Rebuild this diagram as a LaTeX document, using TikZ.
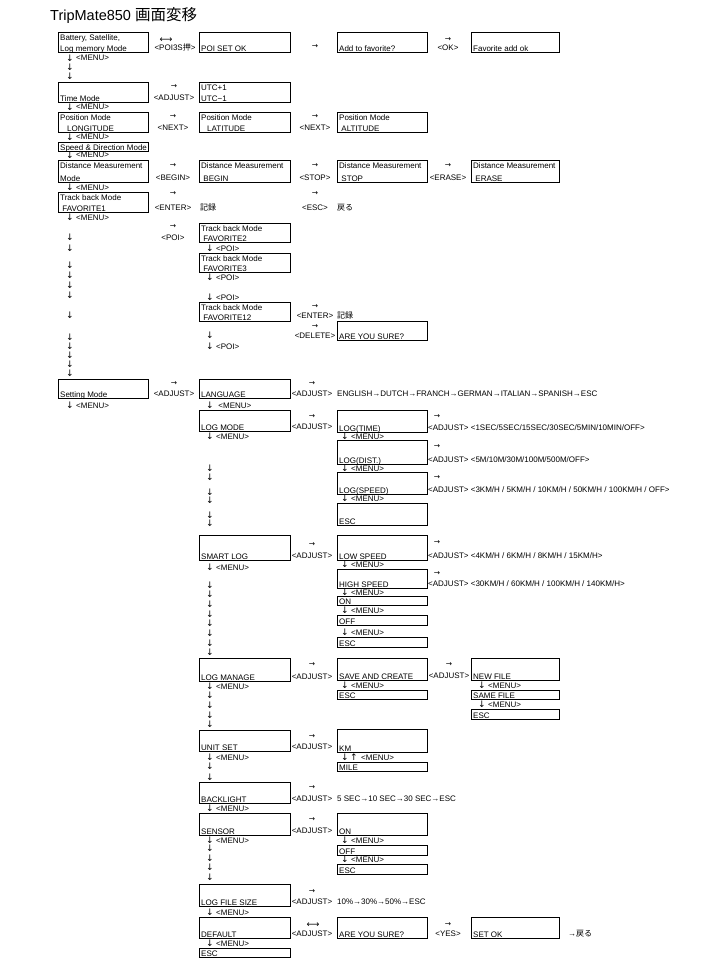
\documentclass[tikz,border=0pt]{standalone}
\usepackage{fontspec}
\setmainfont{Liberation Sans}
\newfontfamily\cjk{Noto Sans CJK JP}
\newfontfamily\djv{DejaVu Sans}
\newcounter{nn}
\tikzset{
 box/.style={draw, line width=0.9pt, inner sep=0pt, anchor=north west},
 t/.style={anchor=base west, inner sep=0pt, font=\fontsize{8}{9}\selectfont},
 c/.style={anchor=base, inner sep=0pt, font=\fontsize{8}{9}\selectfont},
 ar/.style={anchor=center, inner sep=0pt, font=\djv\fontsize{7.5}{9}\selectfont},
 dar/.style={anchor=center, inner sep=0pt, font=\djv\fontsize{9}{9}\selectfont},
 lar/.style={anchor=center, inner sep=0pt, font=\djv\fontsize{9}{9}\selectfont},
}
\newcommand\bx[5]{\node[box, minimum width=#5pt, minimum height={(#4-#3)*1pt}] (#1) at (#2,#3) {};}
\newcommand\bb[2]{\node[t] (#1b) at ([shift={(2pt,1.8pt)}]#1.south west) {#2};}
\newcommand\bu[2]{\node[t] (#1u) at ([shift={(2pt,-8.5pt)}]#1.north west) {#2};}
\newcommand\lab[4]{\stepcounter{nn}\node[c] (L\arabic{nn}) at (#1,#2) {#3};\node[ar] (A\arabic{nn}) at (#1,#4) {→};}
\newcommand\mn[3]{\stepcounter{nn}\node[dar] (D\arabic{nn}) at (#1,#2) {↓};\node[t] (M\arabic{nn}) at (#1+6,#2+3) {#3};}
\newcommand\dn[2]{\stepcounter{nn}\node[dar] (D\arabic{nn}) at (#1,#2) {↓};}
\newcommand\tx[3]{\stepcounter{nn}\node[t] (T\arabic{nn}) at (#1,#2) {#3};}
\newcommand\ra[2]{\stepcounter{nn}\node[ar] (R\arabic{nn}) at (#1,#2) {→};}
\begin{document}
\begin{tikzpicture}[x=1pt,y=-1pt]
\fill[white] (0,0) rectangle (720,960);
\useasboundingbox (0,0) rectangle (720,960);
\node[anchor=base west, inner sep=0pt, font=\fontsize{14.5}{16}\selectfont] (title) at (50,21) {TripMate850 {\cjk\fontsize{15.5}{16}\selectfont 画面変移}};
% Row A
\bx{a1}{58}{32}{52}{90}\bu{a1}{Battery, Satellite,}\bb{a1}{Log memory Mode}
\node[lar] (a12a) at (166,40) {⟷};
\node[c] (a12) at (175,50.2) {<POI3S{\cjk 押}>};
\bx{a2}{199}{32}{52}{91}\bb{a2}{POI SET OK}
\ra{315}{47}
\bx{a3}{337}{32}{52}{90}\bb{a3}{Add to favorite?}
\lab{448}{50.2}{<OK>}{40}
\bx{a4}{471}{32}{52}{88}\bb{a4}{Favorite add ok}
\mn{70}{58}{<MENU>}\dn{70}{67}\dn{70}{76}
% Row B
\bx{b1}{58}{82}{102}{90}\bb{b1}{Time Mode}
\lab{174}{100.2}{<ADJUST>}{87}
\bx{b2}{199}{82}{102}{91}\bu{b2}{UTC+1}\bb{b2}{UTC−1}
\mn{70}{107}{<MENU>}
% Row C
\bx{c1}{58}{112}{132}{90}\bu{c1}{Position Mode}\bb{c1}{\hspace{7pt}LONGITUDE}
\lab{173}{130.2}{<NEXT>}{117}
\bx{c2}{199}{112}{132}{91}\bu{c2}{Position Mode}\bb{c2}{\hspace{6pt}LATITUDE}
\lab{315}{130.2}{<NEXT>}{117}
\bx{c3}{337}{112}{132}{90}\bu{c3}{Position Mode}\bb{c3}{\ ALTITUDE}
\mn{70}{137}{<MENU>}
% Row D
\bx{d1}{58}{142}{151}{90}\bb{d1}{Speed \& Direction Mode}
\mn{70}{155}{<MENU>}
% Row E
\bx{e1}{58}{160}{182}{90}\bu{e1}{Distance Measurement}\bb{e1}{Mode}
\lab{173}{180.2}{<BEGIN>}{166}
\bx{e2}{199}{160}{182}{91}\bu{e2}{Distance Measurement}\bb{e2}{\ BEGIN}
\lab{315}{180.2}{<STOP>}{166}
\bx{e3}{337}{160}{182}{90}\bu{e3}{Distance Measurement}\bb{e3}{\ STOP}
\lab{448}{180.2}{<ERASE>}{166}
\bx{e4}{471}{160}{182}{88}\bu{e4}{Distance Measurement}\bb{e4}{\ ERASE}
\mn{70}{187}{<MENU>}
% Row F
\bx{f1}{58}{192}{212}{90}\bu{f1}{Track back Mode}\bb{f1}{\ FAVORITE1}
\lab{173}{210.2}{<ENTER>}{194}
\tx{200}{210.2}{\cjk 記録}
\lab{315}{210.2}{<ESC>}{194}
\tx{337}{210.2}{\cjk 戻る}
\mn{70}{217}{<MENU>}
% Row G
\lab{173}{240.2}{<POI>}{227}
\bx{g2}{199}{223}{242}{91}\bu{g2}{Track back Mode}\bb{g2}{\ FAVORITE2}
\mn{210}{248}{<POI>}
\bx{g3}{199}{253}{272}{91}\bu{g3}{Track back Mode}\bb{g3}{\ FAVORITE3}
\mn{210}{277}{<POI>}
\mn{210}{297}{<POI>}
\bx{g4}{199}{302}{321}{91}\bu{g4}{Track back Mode}\bb{g4}{\ FAVORITE12}
\lab{315}{318}{<ENTER>}{307}
\tx{337}{318}{\cjk 記録}
\lab{315}{338.2}{<DELETE>}{327}
\bx{g5}{337}{321}{340}{90}\bb{g5}{ARE YOU SURE?}
\dn{210}{335}
\mn{210}{346}{<POI>}
\dn{70}{237}\dn{70}{248}\dn{70}{265}\dn{70}{275}\dn{70}{285}\dn{70}{295}
\dn{70}{315}\dn{70}{337}\dn{70}{346}\dn{70}{355}\dn{70}{364}\dn{70}{373}
% Setting
\bx{s1}{58}{379}{398}{90}\bb{s1}{Setting Mode}
\lab{174}{396.2}{<ADJUST>}{384}
\bx{s2}{199}{379}{398}{91}\bb{s2}{LANGUAGE}
\lab{312}{396.2}{<ADJUST>}{384}
\tx{337}{396.2}{ENGLISH→DUTCH→FRANCH→GERMAN→ITALIAN→SPANISH→ESC}
\mn{70}{405}{<MENU>}
\mn{210}{405}{\ <MENU>}
% LOG MODE
\bx{lm}{199}{410}{431}{91}\bb{lm}{LOG MODE}
\lab{312}{429.2}{<ADJUST>}{417}
\bx{lt}{337}{410}{432}{90}\bb{lt}{LOG(TIME)}
\ra{437}{417}\tx{428}{430.2}{<ADJUST> <1SEC/5SEC/15SEC/30SEC/5MIN/10MIN/OFF>}
\mn{345}{436}{<MENU>}
\bx{ld}{337}{440}{464}{90}\bb{ld}{LOG(DIST.)}
\ra{437}{447}\tx{428}{462.2}{<ADJUST> <5M/10M/30M/100M/500M/OFF>}
\mn{345}{468}{<MENU>}
\bx{ls}{337}{472}{494}{90}\bb{ls}{LOG(SPEED)}
\ra{437}{478}\tx{428}{492.2}{<ADJUST> <3KM/H / 5KM/H / 10KM/H / 50KM/H / 100KM/H / OFF>}
\mn{345}{498}{<MENU>}
\bx{le}{337}{503}{525}{90}\bb{le}{ESC}
\mn{210}{436}{<MENU>}
\dn{210}{468}\dn{210}{477}\dn{210}{492}\dn{210}{500}\dn{210}{515}\dn{210}{523}
% SMART LOG
\bx{sl}{199}{535}{560}{91}\bb{sl}{SMART LOG}
\lab{312}{558.2}{<ADJUST>}{545}
\bx{lo}{337}{535}{560}{90}\bb{lo}{LOW SPEED}
\ra{437}{543}\tx{428}{558.2}{<ADJUST> <4KM/H / 6KM/H / 8KM/H / 15KM/H>}
\mn{345}{564.5}{<MENU>}
\bx{hi}{337}{569}{588}{90}\bb{hi}{HIGH SPEED}
\ra{437}{574}\tx{428}{586.2}{<ADJUST> <30KM/H / 60KM/H / 100KM/H / 140KM/H>}
\mn{345}{592}{<MENU>}
\bx{on1}{337}{596}{605}{90}\bb{on1}{ON}
\mn{345}{610}{<MENU>}
\bx{of1}{337}{615}{625}{90}\bb{of1}{OFF}
\mn{345}{632}{<MENU>}
\bx{es1}{337}{637}{647}{90}\bb{es1}{ESC}
\mn{210}{567}{<MENU>}
\dn{210}{585}\dn{210}{594}\dn{210}{604}\dn{210}{614}\dn{210}{623}\dn{210}{633}\dn{210}{643}\dn{210}{652}
% LOG MANAGE
\bx{lg}{199}{658}{681}{91}\bb{lg}{LOG MANAGE}
\lab{312}{679.2}{<ADJUST>}{665}
\bx{sc}{337}{658}{680}{90}\bb{sc}{SAVE AND CREATE}
\mn{345}{685}{<MENU>}
\bx{es2}{337}{690}{699}{90}\bb{es2}{ESC}
\lab{449}{678.2}{<ADJUST>}{665}
\bx{nf}{471}{658}{680}{88}\bb{nf}{NEW FILE}
\mn{482}{685}{<MENU>}
\bx{sf}{471}{690}{699}{88}\bb{sf}{SAME FILE}
\mn{482}{704}{<MENU>}
\bx{es3}{471}{709}{719}{88}\bb{es3}{ESC}
\mn{210}{686}{<MENU>}
\dn{210}{695}\dn{210}{705}\dn{210}{715}\dn{210}{724}
% UNIT SET
\bx{us}{199}{730}{751}{91}\bb{us}{UNIT SET}
\lab{312}{749.2}{<ADJUST>}{737}
\bx{km}{337}{729}{752}{90}\bb{km}{KM}
\dn{345}{757}\stepcounter{nn}\node[dar] (U\arabic{nn}) at (354,757) {↑};\tx{361}{760}{<MENU>}
\bx{mi}{337}{762}{771}{90}\bb{mi}{MILE}
\mn{210}{757}{<MENU>}
\dn{210}{766}\dn{210}{777}
% BACKLIGHT
\bx{bl}{199}{782}{803}{91}\bb{bl}{BACKLIGHT}
\lab{312}{801.2}{<ADJUST>}{788}
\tx{337}{801.2}{5 SEC→10 SEC→30 SEC→ESC}
\mn{210}{808}{<MENU>}
% SENSOR
\bx{se}{199}{813}{835}{91}\bb{se}{SENSOR}
\lab{312}{833.2}{<ADJUST>}{820}
\bx{on2}{337}{813}{835}{90}\bb{on2}{ON}
\mn{345}{840}{<MENU>}
\bx{of2}{337}{845}{855}{90}\bb{of2}{OFF}
\mn{345}{859}{<MENU>}
\bx{es4}{337}{864}{874}{90}\bb{es4}{ESC}
\mn{210}{840}{<MENU>}
\dn{210}{848}\dn{210}{858}\dn{210}{867}\dn{210}{877}
% LOG FILE SIZE
\bx{lf}{199}{884}{906}{91}\bb{lf}{LOG FILE SIZE}
\lab{312}{904.2}{<ADJUST>}{892}
\tx{337}{904.2}{10\%→30\%→50\%→ESC}
\mn{210}{912}{<MENU>}
% DEFAULT
\bx{df}{199}{917}{938}{91}\bb{df}{DEFAULT}
\node[lar] (dfa) at (313,925) {⟷};
\node[c] (dfl) at (312,936.2) {<ADJUST>};
\bx{as}{337}{917}{938}{90}\bb{as}{ARE YOU SURE?}
\lab{448}{936.2}{<YES>}{925}
\bx{ok}{471}{917}{938}{88}\bb{ok}{SET OK}
\tx{568}{936.2}{→{\cjk 戻る}}
\mn{210}{943}{<MENU>}
\bx{es5}{199}{948}{957}{91}\bb{es5}{ESC}
\end{tikzpicture}
\end{document}
